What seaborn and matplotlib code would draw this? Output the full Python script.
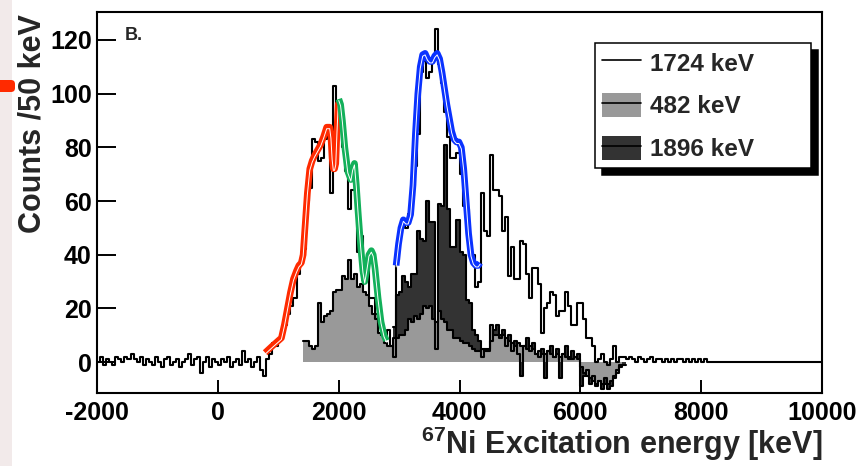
import numpy as np
import pandas as pd
import matplotlib
matplotlib.use("Agg")
import matplotlib.pyplot as plt
import matplotlib.transforms as mtransforms
from matplotlib.patches import Patch, Rectangle, FancyBboxPatch
from matplotlib.lines import Line2D
import seaborn as sns

# ---------------- data (counts per 50 keV bin) ----------------
BIN = 50
# 1724 keV gate, open histogram, first bin starts at -2000 keV
h1724_start = -2000
h1724 = [
    0, 2, -1, 1, 0, -1, 2, 1, 0, 2,
    1, 3, 1, 0, 2, -1, 1, 0, -1, 2,
    0, -2, 1, 2, -1, 0, 1, -2, 0, 1,
    3, -1, 1, 2, -4, 0, 2, -2, 1, 0,
    -1, 1, 0, 2, -2, 0, 1, -1, 4, 0,
    1, -2, 0, 2, -3, -5, 1, 3, 7, 6,
    8, 11, 14, 18, 21, 24, 33, 38, 42, 60,
    65, 83, 82, 75, 76, 83, 84, 63, 103, 96,
    96, 80, 71, 57, 64, 64, 41, 47, 31, 37,
    24, 24, 16, 15, 10, 9, 12, 6, 2, 38,
    48, 52, 50, 55, 62, 73, 85, 108, 112, 106,
    108, 113, 124, 111, 104, 93, 84, 76, 76, 78,
    70, 58, 57, 41, 40, 28, 30, 63, 49, 47,
    77, 64, 64, 62, 49, 54, 32, 43, 31, 31,
    45, 44, 33, 24, 35, 35, 29, 11, 20, 22,
    26, 25, 17, 19, 19, 26, 21, 14, 14, 22,
    22, 16, 9, 9, 6, 0, 1, 3, 0, -1,
    1, 6, 0, 2, 2, 1, 2, 1, 0, 2,
    1, 0, 1, 2, 0, 1, 1, 0, 1, 0,
    1, 0, 1, 1, 0, 1, 0, 1, 0, 1,
    0, 1, 0, 0, 0, 0, 0, 0, 0, 0,
    0, 0, 0, 0, 0, 0, 0, 0, 0, 0,
    0, 0, 0, 0, 0, 0, 0, 0, 0, 0,
    0, 0, 0, 0, 0, 0, 0, 0, 0, 0,
]
# 482 keV gate, grey histogram, first bin starts at 1400 keV
h482_start = 1400
h482 = [
    8, 8, 6, 5, 6, 22, 15, 17, 18, 19,
    26, 27, 27, 32, 31, 38, 31, 33, 28, 29,
    26, 25, 21, 18, 18, 11, 10, 7, 6, 6,
    9, 9, 10, 10, 12, 16, 15, 17, 16, 18,
    21, 20, 21, 16, 15, 19, 16, 15, 12, 12,
    9, 9, 8, 7, 7, 6, 5, 4, 4, 5,
    4, 5, 14, 10, 10, 9, 10, 9, 8, 7,
    6, 7, 6, 6, 5, 6, 5, 3, 4, 3,
    3, 4, 3, 2, 3, 2, 3, 2, 2, 1,
    2, 1, -2, -4, -5, -6, -7, -8, -7, -8,
    -6, -8, -7, -6, -4, -1,
]
# 1896 keV gate, dark histogram, first bin starts at 2900 keV
h1896_start = 2900
h1896 = [
    13, 25, 26, 32, 30, 28, 33, 33, 49, 46,
    45, 60, 52, 52, 5, 59, 58, 81, 57, 43,
    43, 53, 41, 40, 23, 22, 12, 10, 8, 2,
    5, 4, 8, 12, 14, 10, 12, 6, 10, 4,
    8, 3, -5, 6, 9, 4, 7, 3, 2, 5,
    -6, 4, 6, 2, 5, -6, 3, 6, 1, 4,
    2, 3, -9, -5, -3, -8, -5, -9, -7, -10,
    -8, -10, -9, -5, -3, -2, -1,
]

# fit curves (keV, counts)
red_x = [780, 900, 1050, 1100, 1150, 1200, 1250, 1300, 1340, 1380, 1410, 1440, 1480,
         1520, 1560, 1600, 1650, 1700, 1750, 1800, 1850, 1870, 1890, 1910, 1930, 1950,
         1970, 1990, 2010]
red_y = [3.5, 6, 9, 14, 20, 26, 31, 34, 36, 37, 40, 50, 63, 72, 75, 77, 79, 81, 84,
         87.5, 87.5, 84, 76, 72, 72, 74, 86, 96, 97]
green_x = [2000, 2030, 2060, 2100, 2150, 2200, 2230, 2260, 2290, 2320, 2360, 2400, 2430,
           2460, 2500, 2540, 2570, 2600, 2650, 2700, 2750, 2790]
green_y = [98, 96, 90, 80, 71, 68, 72, 74, 66, 56, 44, 34, 30, 34, 40, 41.5, 40, 35, 24,
           15, 10, 8]
blue_x = [2950, 2990, 3030, 3070, 3110, 3150, 3190, 3230, 3270, 3310, 3350, 3390, 3430,
          3470, 3510, 3550, 3590, 3630, 3670, 3710, 3750, 3790, 3830, 3870, 3910, 3950,
          3990, 4030, 4070, 4110, 4150, 4190, 4230, 4270, 4310, 4340]
blue_y = [36, 44, 50, 53, 52, 52, 55, 66, 85, 100, 110, 114.5, 115, 113, 112, 112, 114,
          115, 113, 108, 102, 96, 91, 86, 83, 82, 82, 80, 72, 60, 48, 40, 37, 36, 36, 37]

legend_labels = ["1724 keV", "482 keV", "1896 keV"]
x_ticks = [-2000, 0, 2000, 4000, 6000, 8000, 10000]
y_ticks = [0, 20, 40, 60, 80, 100, 120]

# ---------------- style ----------------
sns.set_theme(style="white")
plt.rcParams["font.family"] = ["Liberation Sans", "DejaVu Sans"]
plt.rcParams["font.weight"] = "bold"
plt.rcParams["mathtext.fontset"] = "custom"
plt.rcParams["mathtext.rm"] = "Liberation Sans:bold"
plt.rcParams["mathtext.bf"] = "Liberation Sans:bold"

W, H = 863, 466
fig = plt.figure(figsize=(W / 100, H / 100), dpi=100)
fig.patch.set_facecolor("white")
ax = fig.add_axes([97.3 / W, 1 - 392.7 / H, (821.7 - 97.3) / W, (392.7 - 12.3) / H])

GREY = "#999999"
DARK = "#333333"


def hist_frame(start, vals):
    edges = start + BIN * np.arange(len(vals) + 1)
    df = pd.DataFrame({"energy": edges[:-1] + BIN / 2,
                       "counts": np.asarray(vals, dtype=float)})
    return df, [float(e) for e in edges]


d1, e1 = hist_frame(h1724_start, h1724)
d2, e2 = hist_frame(h482_start, h482)
d3, e3 = hist_frame(h1896_start, h1896)

# fills (dark first, grey on top), then outlines
sns.histplot(data=d3, x="energy", weights="counts", bins=e3, element="step", fill=True,
             color=DARK, alpha=1, linewidth=0, ax=ax)
sns.histplot(data=d2, x="energy", weights="counts", bins=e2, element="step", fill=True,
             color=GREY, alpha=1, linewidth=0, ax=ax)
for d, e in [(d1, e1), (d2, e2), (d3, e3)]:
    sns.histplot(data=d, x="energy", weights="counts", bins=e, element="step",
                 fill=False, color="black", linewidth=1.5, ax=ax)

# fit curves: coloured band with thin white line inside
white_tr = mtransforms.offset_copy(ax.transData, fig=fig, x=0, y=-1.5, units="dots")
for xs, ys, col in [(red_x, red_y, "#ff2a00"), (green_x, green_y, "#12b05a"),
                    (blue_x, blue_y, "#0a32ff")]:
    cdf = pd.DataFrame({"energy": xs, "counts": ys})
    sns.lineplot(data=cdf, x="energy", y="counts", color=col, linewidth=4.8, sort=False,
                 estimator=None, ax=ax, solid_capstyle="butt")
    sns.lineplot(data=cdf, x="energy", y="counts", color="white", linewidth=0.7,
                 sort=False, estimator=None, ax=ax, transform=white_tr)

ax.set_xlim(-2000, 10000)
ax.set_ylim(-11.4, 130.3)
ax.set_xticks(x_ticks)
ax.set_yticks(y_ticks)
ax.set_xticklabels([str(t) for t in x_ticks], fontsize=18, fontweight="bold")
ax.set_yticklabels([str(t) for t in y_ticks], fontsize=18, fontweight="bold")
ax.set_xticks(np.arange(-2000, 10001, 500), minor=True)
ax.set_yticks(np.arange(-10, 131, 5), minor=True)
ax.tick_params(axis="x", which="major", direction="in", length=9.2, width=1.4,
               pad=6, colors="black", labelcolor="black")
ax.tick_params(axis="x", which="minor", direction="in", length=4.5, width=1.4)
ax.tick_params(axis="y", which="major", direction="in", length=14, width=1.4,
               pad=4, colors="black")
ax.tick_params(axis="y", which="minor", direction="in", length=7.5, width=1.4)
ax.tick_params(top=False, right=False, bottom=True, left=True)
for sp in ax.spines.values():
    sp.set_visible(True)
    sp.set_color("black")
    sp.set_linewidth(1.5)
ax.set_xlabel("")
ax.set_ylabel("")
ax.grid(False)

# axis titles
fig.text(33 / W, 1 - 14 / H, "Counts /50 keV", rotation=90, ha="center", va="top",
         fontsize=22, fontweight="bold")
fig.text(822 / W, 1 - 454 / H, r"$^{\mathbf{67}}$Ni Excitation energy [keV]",
         ha="right", va="baseline", fontsize=22, fontweight="bold")
fig.text(125 / W, 1 - 40 / H, "B.", ha="left", va="baseline", fontsize=13,
         fontweight="bold")

# legend
handles = [
    Line2D([], [], color="black", linewidth=1.2),
    (Patch(facecolor=GREY, edgecolor="none"), Line2D([], [], color="black", linewidth=1.2)),
    (Patch(facecolor=DARK, edgecolor="none"), Line2D([], [], color="black", linewidth=1.2)),
]
leg = ax.legend(handles, legend_labels, loc="upper left", mode="expand",
                bbox_to_anchor=(595 / W, 1 - 168 / H, (811 - 595) / W, 125 / H),
                bbox_transform=fig.transFigure,
                borderaxespad=0, prop={"size": 17.5, "weight": "bold"},
                handlelength=1.6, handleheight=1.15, handletextpad=0.35,
                labelspacing=0.72, borderpad=0.3, fancybox=False,
                shadow={"ox": 5, "oy": -5, "color": "black", "alpha": 1},
                framealpha=1, edgecolor="black")
leg.get_frame().set_linewidth(1.1)

# left page strip and marker
fig.patches.append(Rectangle((0, 0), 12 / W, 1, transform=fig.transFigure,
                             facecolor="#f2eaea", edgecolor="none", zorder=0))
fig.patches.append(FancyBboxPatch((-0.05, (H - 92) / 100), 0.2, 0.12,
                                  boxstyle="round,pad=0,rounding_size=0.04",
                                  transform=fig.dpi_scale_trans, facecolor="#ff2a00",
                                  edgecolor="none", zorder=1))

fig.savefig("out.png", dpi=100)
